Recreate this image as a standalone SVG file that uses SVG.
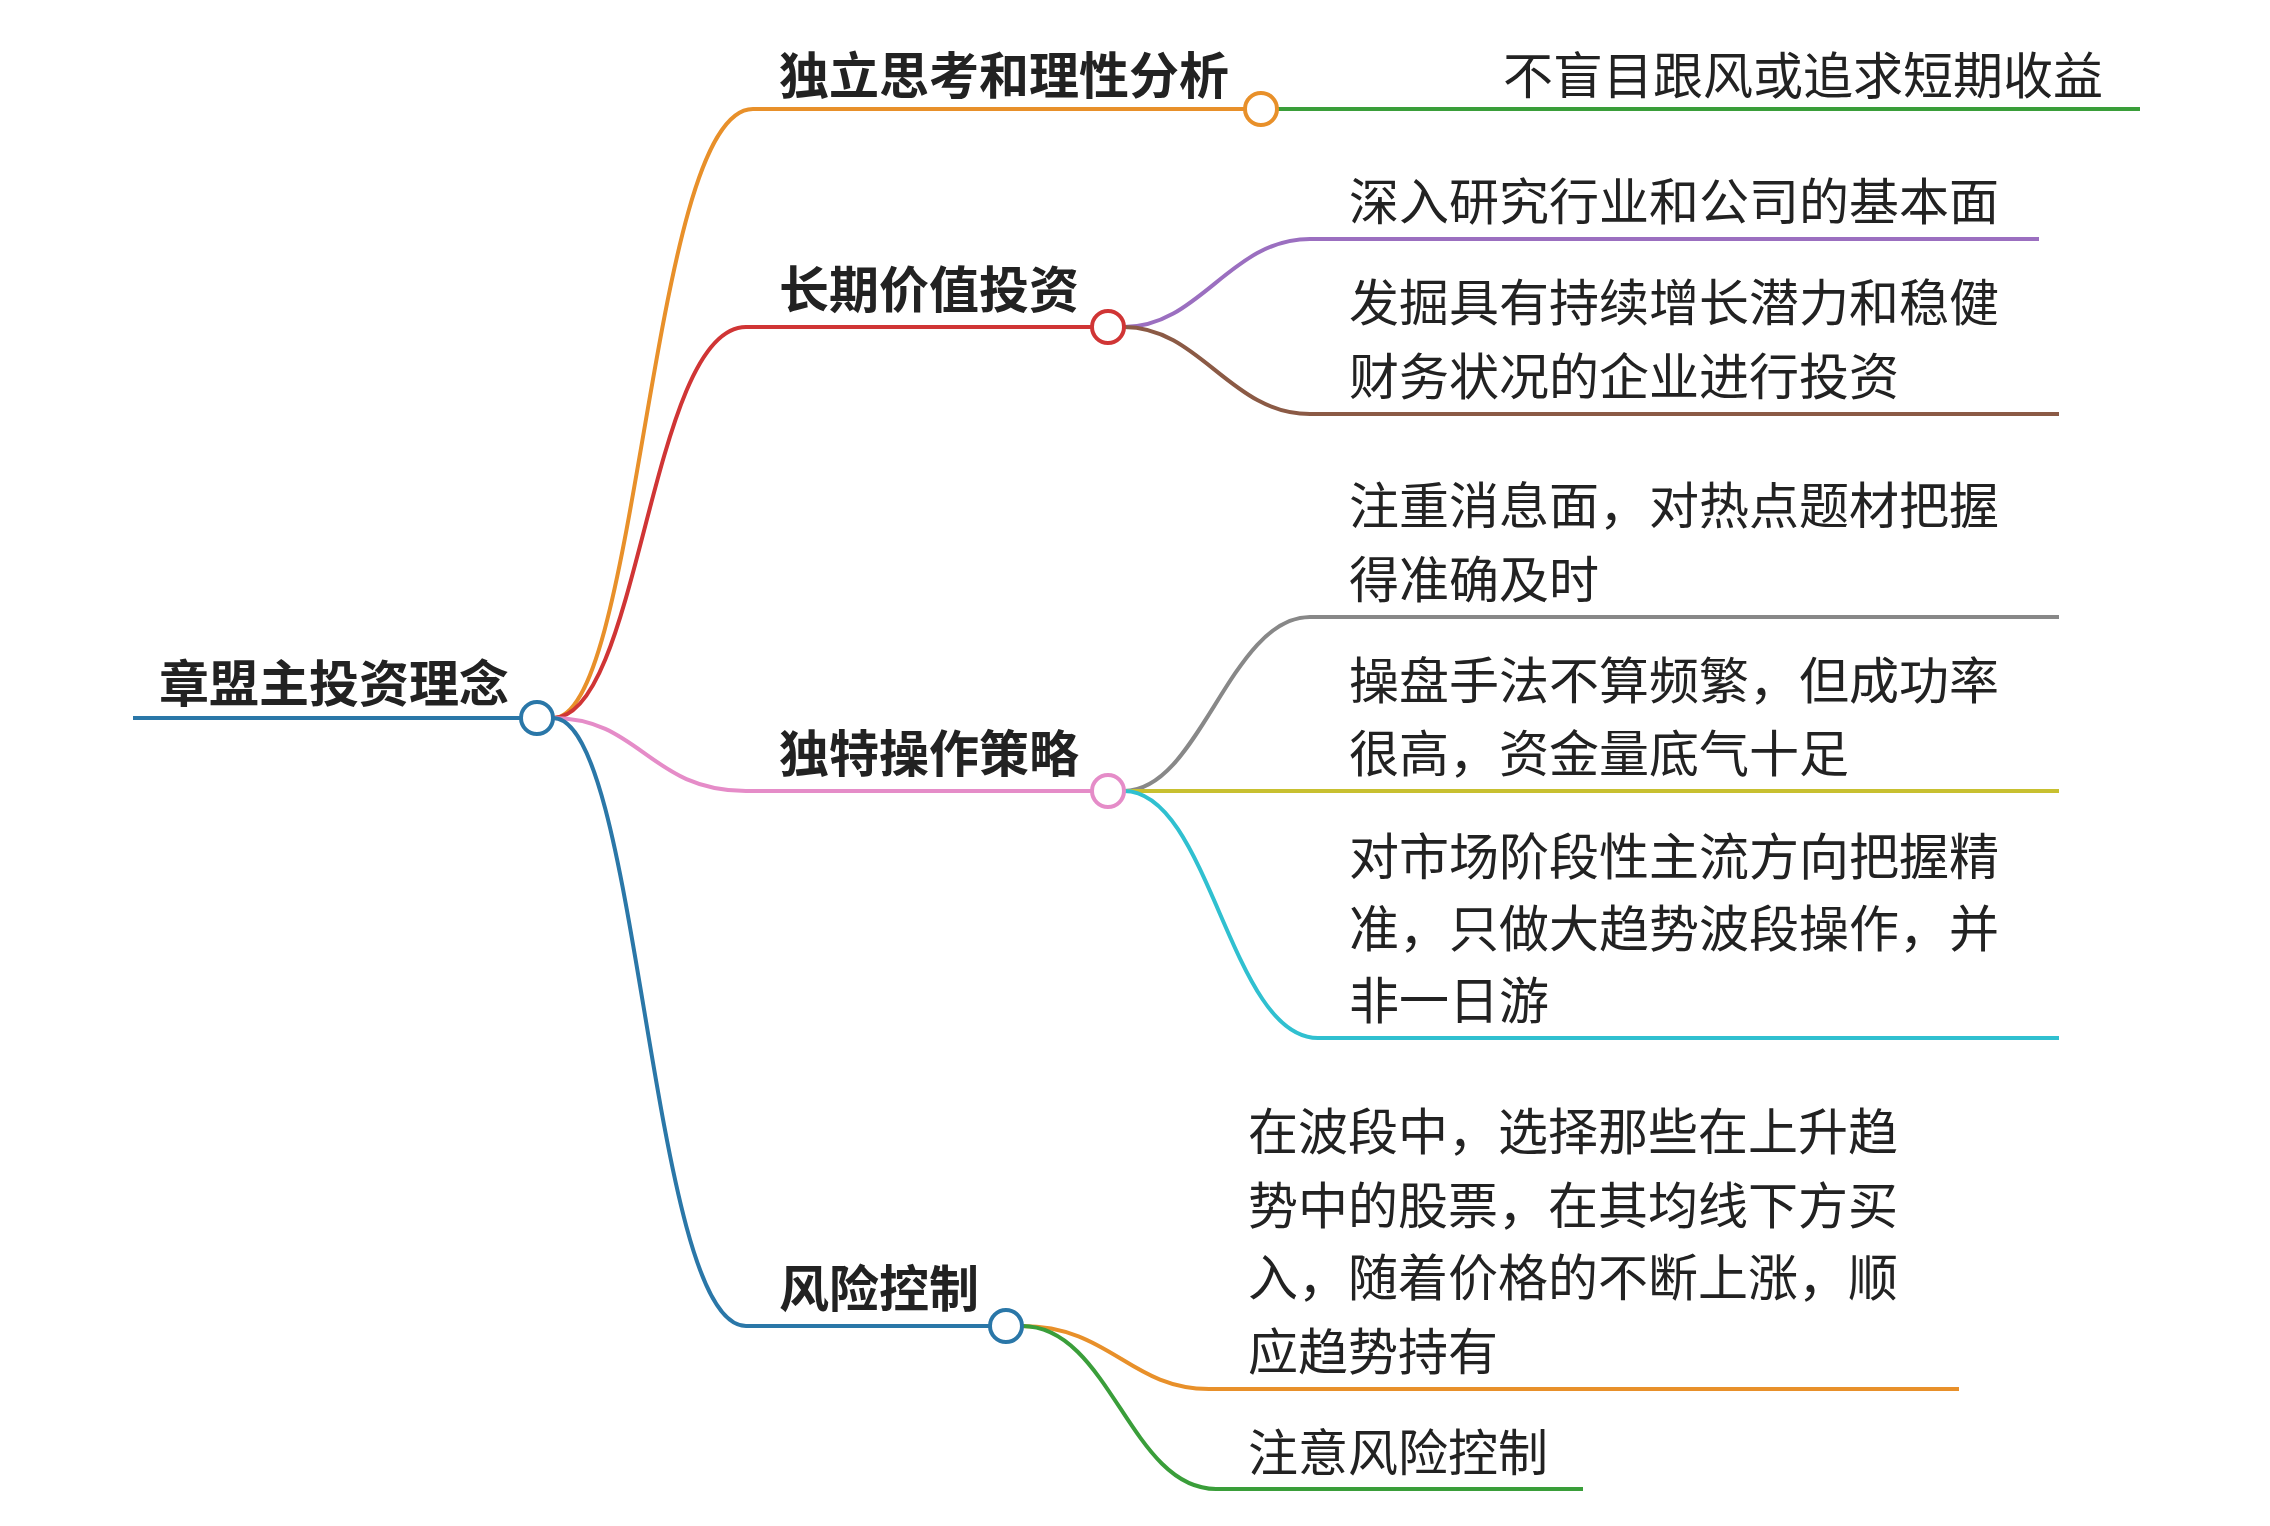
<svg xmlns="http://www.w3.org/2000/svg" width="2270" height="1526" viewBox="0 0 2270 1526">
<style>
text{font-family:"Noto Sans CJK SC","Noto Sans",sans-serif;font-size:50px;fill:#222}
.b{font-weight:bold}
path,line{fill:none;stroke-width:4}
circle{fill:#fff;stroke-width:4}
</style>
<rect width="2270" height="1526" fill="#fff"/>
<g id="connectors">
<path d="M553,718 C640,718 650,109 753,109 H1245" stroke="#E8902A"/>
<path d="M553,718 C640,718 650,327 746,327 H1092" stroke="#D03535"/>
<path d="M553,718 C640,718 650,791 746,791 H1092" stroke="#E58CC8"/>
<path d="M553,718 C640,718 650,1326 746,1326 H990" stroke="#2A77A8"/>
<line x1="133" y1="718" x2="521" y2="718" stroke="#2A77A8"/>
<line x1="1277" y1="109" x2="2140" y2="109" stroke="#3A9E3A"/>
<path d="M1124,327 C1200,327 1230,239 1310,239 H2039" stroke="#9B6FC0"/>
<path d="M1124,327 C1200,327 1230,414 1310,414 H2059" stroke="#8B5A45"/>
<path d="M1124,791 C1200,791 1230,617 1310,617 H2059" stroke="#888"/>
<line x1="1124" y1="791" x2="2059" y2="791" stroke="#C8C030"/>
<path d="M1124,791 C1210,791 1230,1038 1318,1038 H2059" stroke="#30C0D0"/>
<path d="M1022,1326 C1110,1326 1130,1389 1209,1389 H1959" stroke="#E8902A"/>
<path d="M1022,1326 C1110,1326 1130,1489 1216,1489 H1583" stroke="#3A9E3A"/>
</g>
<g id="root"><text class="b" x="159" y="702">章盟主投资理念</text><circle cx="537" cy="718" r="16" stroke="#2A77A8"/></g>
<g id="n1"><text class="b" x="779" y="94">独立思考和理性分析</text><circle cx="1261" cy="109" r="16" stroke="#E8902A"/></g>
<g id="n1a"><text x="1503" y="94">不盲目跟风或追求短期收益</text></g>
<g id="n2"><text class="b" x="779" y="308">长期价值投资</text><circle cx="1108" cy="327" r="16" stroke="#D03535"/></g>
<g id="n2a"><text x="1349" y="220">深入研究行业和公司的基本面</text></g>
<g id="n2b"><text x="1349" y="321">发掘具有持续增长潜力和稳健</text><text x="1349" y="395">财务状况的企业进行投资</text></g>
<g id="n3"><text class="b" x="779" y="772">独特操作策略</text><circle cx="1108" cy="791" r="16" stroke="#E58CC8"/></g>
<g id="n3a"><text x="1349" y="524">注重消息面，对热点题材把握</text><text x="1349" y="598">得准确及时</text></g>
<g id="n3b"><text x="1349" y="699">操盘手法不算频繁，但成功率</text><text x="1349" y="772">很高，资金量底气十足</text></g>
<g id="n3c"><text x="1349" y="875">对市场阶段性主流方向把握精</text><text x="1349" y="947">准，只做大趋势波段操作，并</text><text x="1349" y="1019">非一日游</text></g>
<g id="n4"><text class="b" x="779" y="1307">风险控制</text><circle cx="1006" cy="1326" r="16" stroke="#2A77A8"/></g>
<g id="n4a"><text x="1248" y="1150">在波段中，选择那些在上升趋</text><text x="1248" y="1224">势中的股票，在其均线下方买</text><text x="1248" y="1296">入，随着价格的不断上涨，顺</text><text x="1248" y="1370">应趋势持有</text></g>
<g id="n4b"><text x="1248" y="1471">注意风险控制</text></g>
</svg>
